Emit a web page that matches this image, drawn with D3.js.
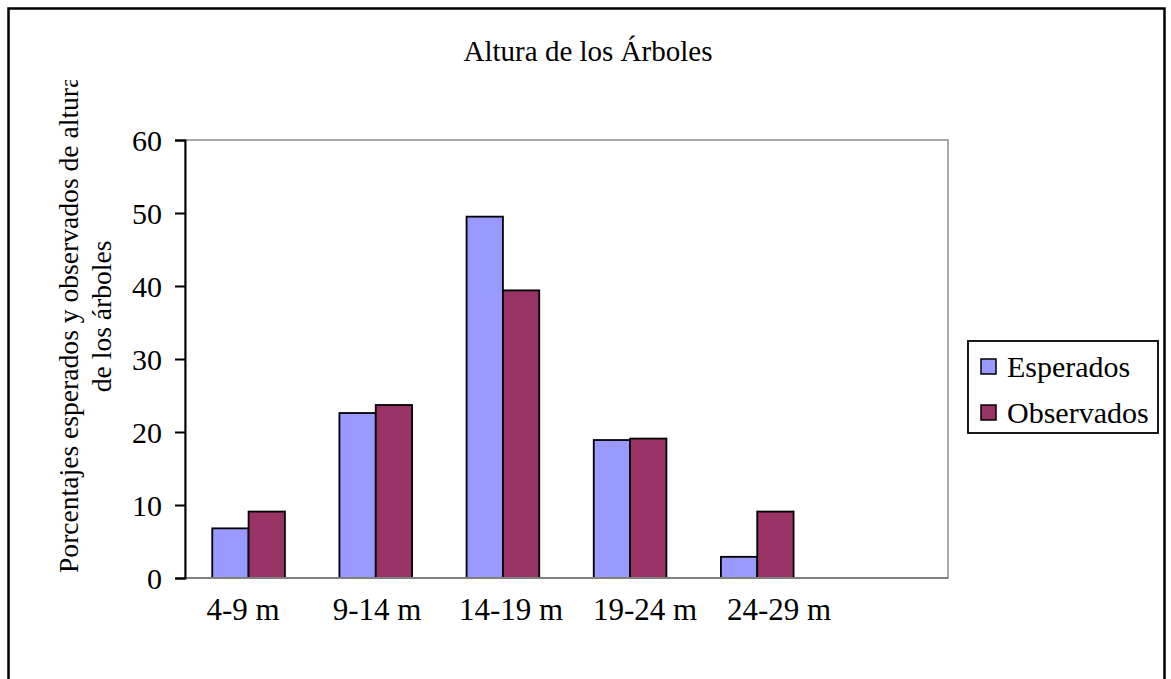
<!DOCTYPE html>
<html>
<head>
<meta charset="utf-8">
<script src="https://cdn.jsdelivr.net/npm/d3@7"></script>
<style>
  html, body { margin: 0; padding: 0; background: #fff; }
  svg { display: block; }
  text { font-family: "Liberation Serif", "Times New Roman", serif; fill: #000; }
</style>
</head>
<body>
<svg id="chart" width="1171" height="679"></svg>
<script>
// Height classes (the last slot is left empty, as in the original sheet)
const categories = ["4-9 m", "9-14 m", "14-19 m", "19-24 m", "24-29 m", ""];
const seriesNames = ["Esperados", "Observados"];
const esperados  = [6.8, 22.6, 49.5, 18.9, 2.9, null];
const observados = [9.1, 23.7, 39.4, 19.1, 9.1, null];
const yTicks = [0, 10, 20, 30, 40, 50, 60];

const colors = { Esperados: "#9999FF", Observados: "#993366" };
const seriesValues = { Esperados: esperados, Observados: observados };

const svg = d3.select("#chart");
const plot = { left: 185, right: 948, top: 140, bottom: 578 };

// Outer chart frame (runs past the bottom edge)
svg.append("rect")
  .attr("x", 8.5).attr("y", 8.5)
  .attr("width", 1156).attr("height", 720)
  .attr("fill", "#fff").attr("stroke", "#000").attr("stroke-width", 2.5);

// Scales
const x = d3.scaleBand().domain(categories).range([plot.left, plot.right]).padding(0);
const barW = x.bandwidth() / 3.5;               // gap width 150%
const xs = d3.scaleBand().domain(seriesNames).range([0, 2 * barW]);
const y = d3.scaleLinear().domain([0, 60]).range([plot.bottom, plot.top]);
// Category labels are laid out on a slightly wider spacing than the bars
const xLabel = d3.scaleBand().domain(categories).range([176, 980]).padding(0);

// Plot area border
svg.append("rect")
  .attr("x", plot.left).attr("y", plot.top)
  .attr("width", plot.right - plot.left).attr("height", plot.bottom - plot.top)
  .attr("fill", "#fff").attr("stroke", "#8c8c8c").attr("stroke-width", 1.5);

// Bars
const rows = categories.map((c, i) => ({ cat: c, vals: seriesNames.map(s => ({ s, v: seriesValues[s][i] })) }));
const groups = svg.append("g").selectAll("g").data(rows).join("g")
  .attr("transform", d => `translate(${x(d.cat) + (x.bandwidth() - 2 * barW) / 2},0)`);
groups.selectAll("rect").data(d => d.vals.filter(e => e.v != null)).join("rect")
  .attr("x", d => xs(d.s))
  .attr("y", d => y(d.v))
  .attr("width", xs.bandwidth())
  .attr("height", d => y(0) - y(d.v))
  .attr("fill", d => colors[d.s])
  .attr("stroke", "#000").attr("stroke-width", 1.8);

// X axis line
svg.append("line")
  .attr("x1", plot.left).attr("x2", plot.right)
  .attr("y1", plot.bottom).attr("y2", plot.bottom)
  .attr("stroke", "#808080").attr("stroke-width", 2);

// Y axis
const yAxis = d3.axisLeft(y).tickValues(yTicks).tickSize(10).tickPadding(13);
const gy = svg.append("g").attr("transform", `translate(${plot.left},0)`).call(yAxis);
gy.select(".domain").attr("stroke", "#000").attr("stroke-width", 2);
gy.selectAll(".tick line").attr("stroke", "#000").attr("stroke-width", 2);
gy.selectAll(".tick text")
  .attr("font-family", "Liberation Serif, serif")
  .attr("font-size", 30).attr("fill", "#000").attr("dy", "0.34em");

// Category labels
svg.append("g").selectAll("text").data(categories.filter(c => c)).join("text")
  .attr("x", d => xLabel(d) + xLabel.bandwidth() / 2)
  .attr("y", 620)
  .attr("text-anchor", "middle")
  .attr("font-size", 31)
  .text(d => d);

// Title
svg.append("text")
  .attr("x", 588).attr("y", 61)
  .attr("text-anchor", "middle")
  .attr("font-size", 29)
  .text("Altura de los Árboles");

// Y axis title, two centred lines, clipped at the top of the chart area
svg.append("clipPath").attr("id", "ytclip")
  .append("rect").attr("x", 0).attr("y", 80).attr("width", 180).attr("height", 600);
const yt = svg.append("g").attr("clip-path", "url(#ytclip)")
  .append("text")
  .attr("transform", "rotate(-90)")
  .attr("text-anchor", "middle")
  .attr("font-size", 27.6);
const line1 = yt.append("tspan").attr("y", 78).text("Porcentajes esperados y observados de altura");
const line2 = yt.append("tspan").attr("y", 111).text("de los árboles");
const titleStart = 573;   // where the first line begins, near the x axis
const centre = titleStart - line1.node().getComputedTextLength() / 2;
line1.attr("x", -centre);
line2.attr("x", -(centre - 8));

// Legend
const lg = svg.append("g");
lg.append("rect")
  .attr("x", 968).attr("y", 341).attr("width", 190).attr("height", 92)
  .attr("fill", "#fff").attr("stroke", "#000").attr("stroke-width", 1.8);
const items = lg.selectAll("g").data(seriesNames).join("g")
  .attr("transform", (d, i) => `translate(0,${i * 46})`);
items.append("rect")
  .attr("x", 981).attr("y", 359).attr("width", 15).attr("height", 15)
  .attr("fill", d => colors[d]).attr("stroke", "#000").attr("stroke-width", 1.5);
items.append("text")
  .attr("x", 1007).attr("y", 377)
  .attr("font-size", 30)
  .text(d => d);
</script>
</body>
</html>
